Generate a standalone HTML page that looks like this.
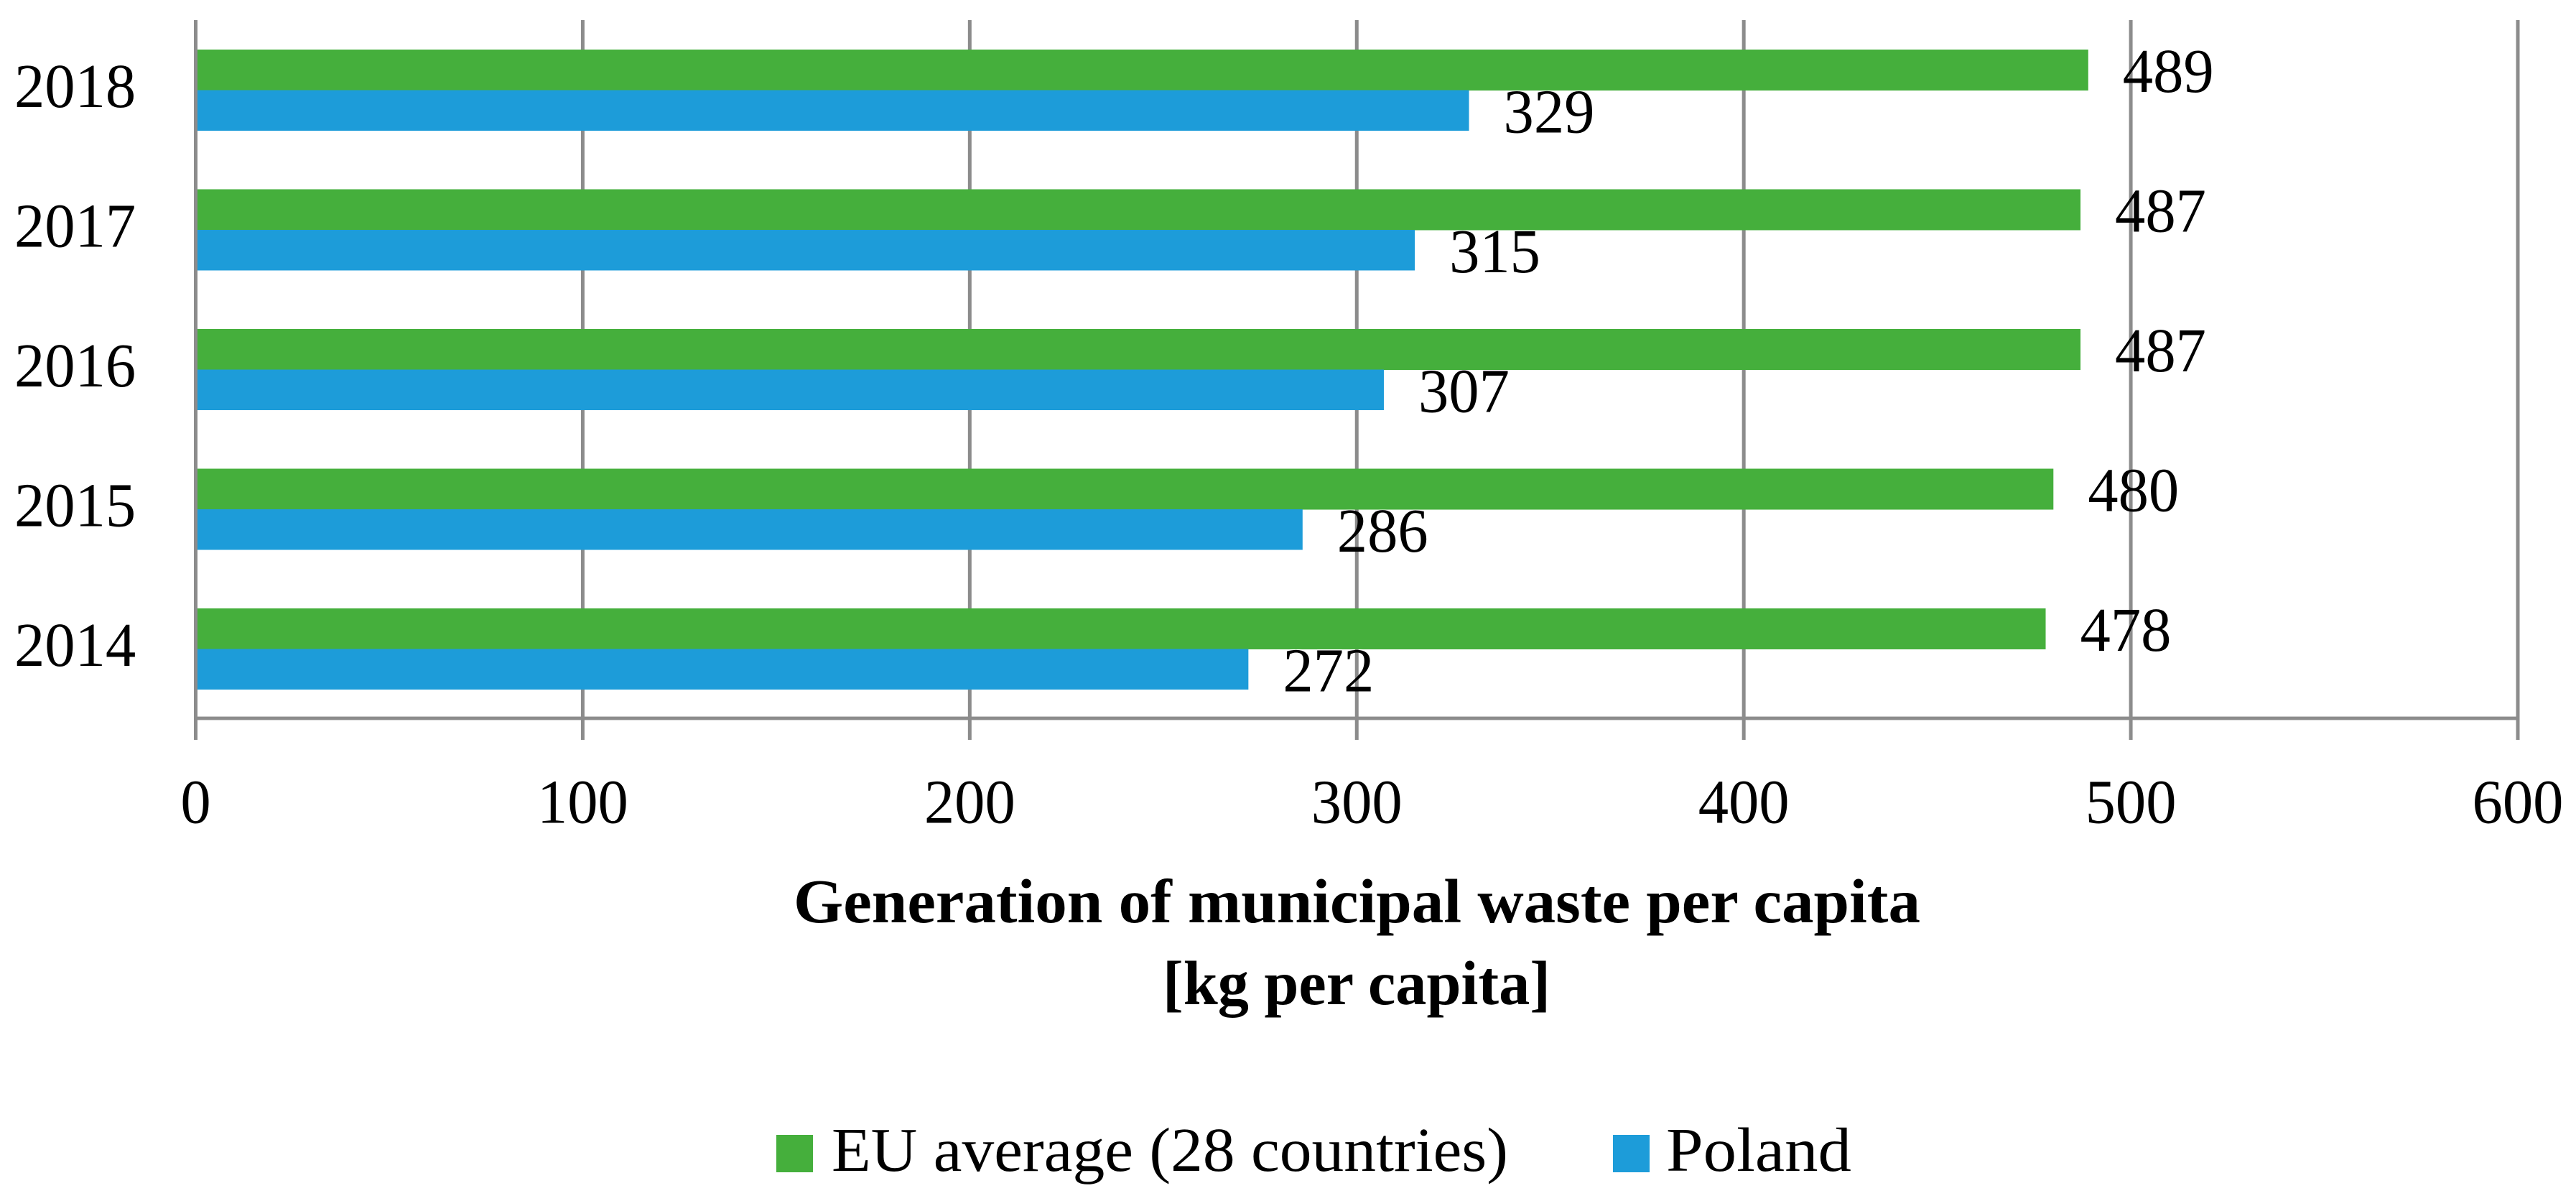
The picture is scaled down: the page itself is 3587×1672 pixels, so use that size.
<!DOCTYPE html>
<html lang="en">
<head>
<meta charset="utf-8">
<title>Generation of municipal waste per capita</title>
<style>
  html, body { margin: 0; padding: 0; background: #ffffff; }
  body { width: 3587px; height: 1672px; overflow: hidden; }
  svg { display: block; }
  text { font-family: "Liberation Serif", serif; fill: #000000; }
</style>
</head>
<body>
<svg id="chart" xmlns="http://www.w3.org/2000/svg" width="3587" height="1672" viewBox="0 0 3587 1672">
  <rect x="0" y="0" width="3587" height="1672" fill="#ffffff"/>
  <g id="grid"></g>
  <g id="bars"></g>
  <g id="labels"></g>
  <g id="yticks"></g>
  <g id="xticks"></g>
  <text x="1105" y="1284" font-size="87" font-weight="700" textLength="1569" lengthAdjust="spacingAndGlyphs">Generation of municipal waste per capita</text>
  <text x="1619" y="1398" font-size="87" font-weight="700" textLength="540" lengthAdjust="spacingAndGlyphs">[kg per capita]</text>
  <rect x="1081" y="1580" width="51" height="52" fill="#45AF3C"/>
  <text x="1158" y="1630" font-size="87" textLength="942" lengthAdjust="spacingAndGlyphs">EU average (28 countries)</text>
  <rect x="2246" y="1580" width="51" height="52" fill="#1D9CD9"/>
  <text x="2320" y="1630" font-size="87" textLength="258" lengthAdjust="spacingAndGlyphs">Poland</text>
</svg>
<script>
const categories = ['2018', '2017', '2016', '2015', '2014'];
const euAverage = [489, 487, 487, 480, 478];
const poland = [329, 315, 307, 286, 272];
const xTickValues = [0, 100, 200, 300, 400, 500, 600];

const NS = 'http://www.w3.org/2000/svg';
const plotLeft = 272.5, plotRight = 3506, plotTop = 27.5, plotBottom = 1000;
const xMax = 600;
const bandHeight = (plotBottom - plotTop) / categories.length;
const barHeight = 56.5, barOffset = 41.5;
const digitAdvance = 42.3;
const GRID = '#8C8C8C', GREEN = '#45AF3C', BLUE = '#1D9CD9';

function xScale(v) { return plotLeft + (v / xMax) * (plotRight - plotLeft); }
function bandTop(i) { return plotTop + i * bandHeight; }

function make(tag, parentId, attrs, content) {
  const el = document.createElementNS(NS, tag);
  for (const k in attrs) el.setAttribute(k, attrs[k]);
  if (content !== undefined) el.textContent = content;
  document.getElementById(parentId).appendChild(el);
  return el;
}

function digitText(parentId, x, y, str, anchor) {
  return make('text', parentId, {
    x: x, y: y, 'font-size': 87, 'text-anchor': anchor,
    textLength: str.length * digitAdvance, lengthAdjust: 'spacingAndGlyphs'
  }, str);
}

xTickValues.forEach(function (t) {
  const x = xScale(t);
  const line = make('rect', 'grid', { x: x - 2.5, y: 28, width: 5, height: 1002, fill: GRID });
  
  
  const label = digitText('xticks', x, 1145.5, String(t), 'middle');
  
  
});

const axis = make('rect', 'grid', { x: plotLeft, y: plotBottom - 2.4, width: plotRight - plotLeft, height: 4.8, fill: GRID });



categories.forEach(function (year, i) {
  const top = bandTop(i) + barOffset;
  const yearLabel = digitText('yticks', 20, top + 80, year, 'start');
  
  

  const euBar = make('rect', 'bars', { x: plotLeft + 2.5, y: top, width: xScale(euAverage[i]) - plotLeft - 2.5, height: barHeight + 0.5, fill: GREEN });
  
  

  const plBar = make('rect', 'bars', { x: plotLeft + 2.5, y: top + barHeight, width: xScale(poland[i]) - plotLeft - 2.5, height: barHeight, fill: BLUE });
  
  

  const euLabel = digitText('labels', xScale(euAverage[i]) + 48, top + barHeight + 2.5, String(euAverage[i]), 'start');
  
  

  const plLabel = digitText('labels', xScale(poland[i]) + 48, top + 2 * barHeight + 2.5, String(poland[i]), 'start');
  
  
});
</script>
</body>
</html>
